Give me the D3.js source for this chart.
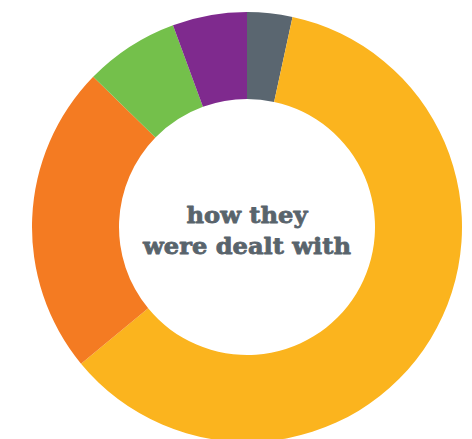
<!DOCTYPE html>
<html><head><meta charset="utf-8">
<script src="https://cdn.jsdelivr.net/npm/d3@7"></script>
<style>html,body{margin:0;padding:0;background:#fff;overflow:hidden}</style>
</head><body><svg id="chart" width="472" height="439"></svg>
<script>
const categories = ["Category A", "Category B", "Category C", "Category D", "Category E"];
const values = [3.4, 60.7, 23.3, 7.1, 5.6];
const colors = ["#5a6670", "#fbb41e", "#f47b22", "#74c04b", "#7f2a8e"];
const titleLines = ["how they", "were dealt with"];

const svg = d3.select("#chart");
const cx = 247, cy = 227, outerR = 215, innerR = 128;
const g = svg.append("g").attr("transform", `translate(${cx},${cy})`);
const data = categories.map((c, i) => ({ cat: c, value: values[i] }));
const pie = d3.pie().value(d => d.value).sort(null);
const arc = d3.arc().innerRadius(innerR).outerRadius(outerR);
const color = d3.scaleOrdinal().domain(categories).range(colors);
g.selectAll("path").data(pie(data)).join("path")
  .attr("d", arc).attr("fill", d => color(d.data.cat));

const txt = g.append("g");
const fs = 23;
const lines = txt.selectAll("text").data(titleLines).join("text")
  .attr("text-anchor", "middle")
  .attr("x", 0)
  .attr("y", (d, i) => i === 0 ? -4 : 27)
  .attr("font-family", "'DejaVu Serif', serif")
  .attr("font-weight", "bold")
  .attr("font-size", fs)
  .attr("fill", "#59646c")
  .attr("stroke", "#59646c")
  .attr("stroke-width", 0.8)
  .attr("stroke-linejoin", "round")
  .text(d => d);
const targetW = [121, 208];
lines.each(function(d, i) {
  const w = this.getComputedTextLength();
  const s = targetW[i] / w;
  d3.select(this).attr("transform", `scale(${s},1)`);
});
</script></body></html>
